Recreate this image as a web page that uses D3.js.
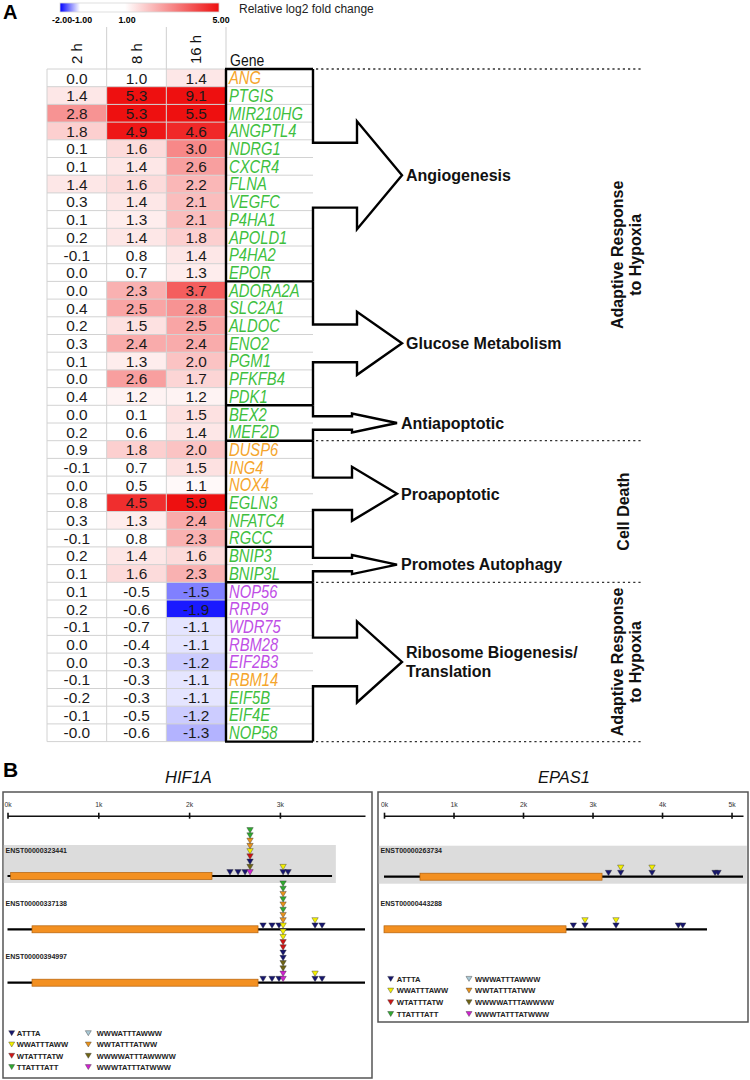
<!DOCTYPE html>
<html><head><meta charset="utf-8">
<script src="https://cdn.jsdelivr.net/npm/d3@7"></script>
<style>body{margin:0;background:#fff;} svg{display:block;font-family:"Liberation Sans",Arial,sans-serif;}</style>
</head><body><svg id="c" width="750" height="1080"></svg>
<script>
// ---------------- DATA: panel A ----------------
const genes = ["ANG","PTGIS","MIR210HG","ANGPTL4","NDRG1","CXCR4","FLNA","VEGFC","P4HA1","APOLD1","P4HA2","EPOR",
  "ADORA2A","SLC2A1","ALDOC","ENO2","PGM1","PFKFB4","PDK1","BEX2","MEF2D",
  "DUSP6","ING4","NOX4","EGLN3","NFATC4","RGCC","BNIP3","BNIP3L",
  "NOP56","RRP9","WDR75","RBM28","EIF2B3","RBM14","EIF5B","EIF4E","NOP58"];
const geneClass = ["o","g","g","g","g","g","g","g","g","g","g","g",
  "g","g","g","g","g","g","g","g","g",
  "o","o","o","g","g","g","g","g",
  "p","p","p","p","p","o","g","g","g"];
const times = ["2 h","8 h","16 h"];
const fc2h = [0.0,1.4,2.8,1.8,0.1,0.1,1.4,0.3,0.1,0.2,-0.1,0.0,
  0.0,0.4,0.2,0.3,0.1,0.0,0.4,0.0,0.2,
  0.9,-0.1,0.0,0.8,0.3,-0.1,0.2,0.1,
  0.1,0.2,-0.1,0.0,0.0,-0.1,-0.2,-0.1,-0.0];
const fc8h = [1.0,5.3,5.3,4.9,1.6,1.4,1.6,1.4,1.3,1.4,0.8,0.7,
  2.3,2.5,1.5,2.4,1.3,2.6,1.2,0.1,0.6,
  1.8,0.7,0.5,4.5,1.3,0.8,1.4,1.6,
  -0.5,-0.6,-0.7,-0.4,-0.3,-0.3,-0.3,-0.5,-0.6];
const fc16h = [1.4,9.1,5.5,4.6,3.0,2.6,2.2,2.1,2.1,1.8,1.4,1.3,
  3.7,2.8,2.5,2.4,2.0,1.7,1.2,1.5,1.4,
  2.0,1.5,1.1,5.9,2.4,2.3,1.6,2.3,
  -1.5,-1.9,-1.1,-1.1,-1.2,-1.1,-1.1,-1.2,-1.3];
const groupNames = [["Angiogenesis"],["Glucose Metabolism"],["Antiapoptotic"],["Proapoptotic"],["Promotes Autophagy"],["Ribosome Biogenesis/","Translation"]];
const groupSizes = [12,7,2,6,2,9];
const sectionNames = [["Adaptive Response","to Hypoxia"],["Cell Death"],["Adaptive Response","to Hypoxia"]];
const sectionSizes = [21,8,9];
const legendTicks = [-2,-1,1,5];
const legendTickLabels = ["-2.00","-1.00","1.00","5.00"];

// ---------------- DATA: panel B ----------------
const motifNames = ["ATTTA","WWATTTAWW","WTATTTATW","TTATTTATT","WWWATTTAWWW","WWTATTTATWW","WWWWATTTAWWWW","WWWTATTTATWWW"];
const hifTitle = "HIF1A";
const hifTicks = [0,1000,2000,3000];
const hifTranscripts = ["ENST00000323441","ENST00000337138","ENST00000394997"];
const hifLengths = [3574,3937,3937];
const hifCds = [[35,2252],[270,2759],[270,2759]];
const hifSites = [
  [[2450,["ATTTA"]],[2539,["ATTTA"]],[2616,["ATTTA"]],
   [2671,["WWWTATTTATWWW","WWWWATTTAWWWW","ATTTA","WTATTTATW","WWATTTAWW","WWTATTTATWW","WWTATTTATWW","TTATTTATT","TTATTTATT"]],
   [3035,["ATTTA","WWATTTAWW"]],[3090,["ATTTA"]]],
  [[2814,["ATTTA"]],[2913,["ATTTA"]],[2990,["ATTTA"]],
   [3035,["WWATTTAWW","WWTATTTATWW","WWTATTTATWW","TTATTTATT","WWTATTTATWW","TTATTTATT","WWTATTTATWW","TTATTTATT","TTATTTATT"]],
   [3387,["ATTTA","WWATTTAWW"]],[3464,["ATTTA"]]],
  [[2814,["ATTTA"]],[2913,["ATTTA"]],[2990,["ATTTA"]],
   [3035,["WWWTATTTATWWW","WWWTATTTATWWW","WWWWATTTAWWWW","WWWWATTTAWWWW","ATTTA","ATTTA","WTATTTATW","WTATTTATW","WWATTTAWW","WWATTTAWW"]],
   [3387,["ATTTA","WWATTTAWW"]],[3464,["ATTTA"]]]
];
const epasTitle = "EPAS1";
const epasTicks = [0,1000,2000,3000,4000,5000];
const epasTranscripts = ["ENST00000263734","ENST00000443288"];
const epasLengths = [5165,4647];
const epasCds = [[518,3137],[0,2619]];
const epasSites = [
  [[3230,["ATTTA"]],[3406,["ATTTA","WWATTTAWW"]],[3856,["ATTTA","WWATTTAWW"]],[4763,["ATTTA"]],[4806,["ATTTA"]]],
  [[2724,["ATTTA"]],[2892,["ATTTA","WWATTTAWW"]],[3338,["ATTTA","WWATTTAWW"]],[4235,["ATTTA"]],[4298,["ATTTA"]]]
];

// ---------------- STYLE ----------------
const geneColors = {o:"#f5a52c", g:"#3fbf3f", p:"#c04fe6"};
const motifColors = ["#16166e","#f4f000","#d01414","#2faa2f","#a9c9d6","#e8921c","#6f6414","#d022d0"];
const boldW = {W:0.944,A:0.722,T:0.611,E:0.667,N:0.722,S:0.667};
const boldWidth = (s,fs) => fs*[...s].reduce((a,c)=>a+(boldW[c]||0.556),0);
const svg = d3.select("#c");
const fmt = v => (Object.is(v,-0) ? "-" : "") + v.toFixed(1);

// ================= PANEL A =================
svg.append("text").attr("x",3).attr("y",19).attr("font-size",20).attr("font-weight","bold").text("A");

const heat = d3.scaleLinear().domain([-2,-1,1,5]).range(["#0000ff","#ffffff","#ffffff","#ee1010"]).clamp(true);
const lx = d3.scaleLinear().domain(legendTicks).range([62,82,127,221]);
const grad = svg.append("defs").append("linearGradient").attr("id","lg");
legendTicks.forEach(v => grad.append("stop")
  .attr("offset", ((lx(v)-lx(-2))/(lx(5)-lx(-2))*100)+"%").attr("stop-color", heat(v)));
svg.append("rect").attr("x",lx(-2)-2).attr("y",3).attr("width",lx(5)-lx(-2)).attr("height",9)
  .attr("fill","url(#lg)").attr("stroke","#d8d8d8").attr("stroke-width",0.8);
svg.selectAll(".lt").data(legendTicks).join("text").attr("class","lt")
  .attr("x",d=>lx(d)).attr("y",23).attr("text-anchor","middle").attr("font-size",8.8).attr("font-weight","bold")
  .text((d,i)=>legendTickLabels[i]);
svg.append("text").attr("x",239).attr("y",12.5).attr("font-size",12).attr("fill","#222").text("Relative log2 fold change");

const yRow = d3.scaleBand().domain(genes).range([69, 69+17.7*genes.length]);
const xCol = d3.scaleBand().domain(times).range([47,226]);
const tableBottom = yRow.range()[1];
const geneLeft = 226, geneRight = 313;
const cols = [fc2h, fc8h, fc16h];

svg.selectAll(".hl").data(times.slice(1).concat(["gene"])).join("line").attr("class","hl")
  .attr("x1",(d,i)=> i<2 ? xCol(d) : geneLeft).attr("x2",(d,i)=> i<2 ? xCol(d) : geneLeft)
  .attr("y1",27).attr("y2",69).attr("stroke","#cfcfcf").attr("stroke-width",1);
svg.selectAll(".th").data(times).join("text").attr("class","th")
  .attr("transform",d=>`translate(${xCol(d)+xCol.bandwidth()/2},64) rotate(-90)`)
  .attr("dy","0.35em").attr("font-size",15).attr("fill","#111").text(d=>d);
svg.append("text").attr("transform","translate(230,66) scale(1,1.12)").attr("font-size",14).attr("fill","#111").text("Gene");

const cells = [];
genes.forEach((g,r)=> times.forEach((t,c)=> cells.push({g,t,v:cols[c][r]})));
svg.selectAll(".cell").data(cells).join("rect").attr("class","cell")
  .attr("x",d=>xCol(d.t)).attr("y",d=>yRow(d.g)).attr("width",xCol.bandwidth()).attr("height",yRow.bandwidth())
  .attr("fill",d=>heat(d.v));
svg.selectAll(".cv").data(cells).join("text").attr("class","cv")
  .attr("x",d=>xCol(d.t)+xCol.bandwidth()/2).attr("y",d=>yRow(d.g)+yRow.bandwidth()/2)
  .attr("dy","0.37em").attr("text-anchor","middle").attr("font-size",15.4).attr("fill","#1a1a1a")
  .text(d=>fmt(d.v));
svg.selectAll(".rg").data(genes.concat(["end"])).join("line").attr("class","rg")
  .attr("x1",47).attr("x2",geneRight)
  .attr("y1",(d,i)=> i<genes.length ? yRow(d) : tableBottom).attr("y2",(d,i)=> i<genes.length ? yRow(d) : tableBottom)
  .attr("stroke","#d2d2d2").attr("stroke-width",1);
svg.selectAll(".cg").data(times).join("line").attr("class","cg")
  .attr("x1",d=>xCol(d)).attr("x2",d=>xCol(d)).attr("y1",69).attr("y2",tableBottom)
  .attr("stroke","#d2d2d2").attr("stroke-width",1);

svg.selectAll(".gn").data(genes).join("text").attr("class","gn")
  .attr("transform",d=>`translate(229,${yRow(d)+yRow.bandwidth()/2+6.4}) scale(1,1.2)`)
  .attr("font-size",14.8).attr("font-style","italic").attr("fill",(d,i)=>geneColors[geneClass[i]]).text(d=>d);

let start = 0;
const grpInfo = groupSizes.map((n,i)=>{
  const top = yRow(genes[start]);
  const bot = yRow(genes[start+n-1]) + yRow.bandwidth();
  start += n;
  return {i, n, top, bot, mid:(top+bot)/2};
});
const thick = 2.4;
svg.append("line").attr("x1",geneLeft).attr("x2",geneLeft).attr("y1",69).attr("y2",tableBottom)
  .attr("stroke","#000").attr("stroke-width",thick);
const seps = [grpInfo[0].top].concat(grpInfo.map(d=>d.bot));
svg.selectAll(".sep").data(seps).join("line").attr("class","sep")
  .attr("x1",geneLeft-1).attr("x2",geneRight).attr("y1",d=>d).attr("y2",d=>d)
  .attr("stroke","#000").attr("stroke-width",thick);
grpInfo.forEach(d=>{
  const sh = Math.max(6.7, d.n*2.7), hh = Math.max(9.5, d.n*4.5);
  const hs = d.n >= 7 ? 357 : 352;
  const tip = hs + 45;
  const p = `M${geneRight},${d.top}V${d.mid-sh}H${hs}V${d.mid-hh}L${tip},${d.mid}L${hs},${d.mid+hh}V${d.mid+sh}H${geneRight}V${d.bot}`;
  svg.append("path").attr("d",p).attr("fill","none").attr("stroke","#000").attr("stroke-width",thick).attr("stroke-linejoin","miter");
  const lines = groupNames[d.i];
  const t = svg.append("text").attr("x", tip+4).attr("font-size",16).attr("font-weight","bold").attr("fill","#111");
  if (lines.length === 1) {
    t.attr("y", d.mid+5.7).text(lines[0]);
  } else {
    t.attr("y", d.mid-4.3);
    lines.forEach((l,k)=> t.append("tspan").attr("x",tip+4).attr("dy", k===0?0:19).text(l));
  }
});

start = 0;
const secInfo = sectionSizes.map((n,i)=>{
  const top = yRow(genes[start]);
  const bot = yRow(genes[start+n-1]) + yRow.bandwidth();
  start += n;
  return {i, top, bot, mid:(top+bot)/2};
});
const dots = [secInfo[0].top].concat(secInfo.map(d=>d.bot));
svg.selectAll(".dl").data(dots).join("line").attr("class","dl")
  .attr("x1",316).attr("x2",643).attr("y1",d=>d).attr("y2",d=>d)
  .attr("stroke","#333").attr("stroke-width",1.3).attr("stroke-dasharray","2.2,3");
secInfo.forEach(d=>{
  const lines = sectionNames[d.i];
  const cx = 626;
  lines.forEach((l,k)=>{
    const x = lines.length===1 ? cx-3 : cx - 9 + k*18.5;
    svg.append("text").attr("transform",`translate(${x},${d.mid}) rotate(-90)`)
      .attr("text-anchor","middle").attr("dy","0.36em").attr("font-size",16).attr("font-weight","bold").attr("fill","#111").text(l);
  });
});

// ================= PANEL B =================
svg.append("text").attr("x",3).attr("y",777).attr("font-size",21).attr("font-weight","bold").text("B");

function drawGene(cfg){
  const g = svg.append("g");
  g.append("rect").attr("x",cfg.box[0]).attr("y",792).attr("width",cfg.box[1]-cfg.box[0]).attr("height",cfg.box[2]-792)
    .attr("fill","#fff").attr("stroke","#555").attr("stroke-width",1.5);
  g.append("text").attr("x",(cfg.box[0]+cfg.box[1])/2+1).attr("y",783).attr("text-anchor","middle")
    .attr("font-size",16.5).attr("font-style","italic").attr("fill","#111").text(cfg.title);
  const x = cfg.x;
  const ax = g.append("g").attr("transform","translate(0,815.7)")
    .call(d3.axisTop(x).tickValues(cfg.ticks).tickFormat(d=>(d/1000)+"k").tickSize(3).tickSizeOuter(0).tickPadding(6));
  ax.select(".domain").attr("stroke","#111").attr("stroke-width",1.6);
  ax.selectAll(".tick line").attr("y1",3).attr("y2",-3).attr("stroke","#111").attr("stroke-width",1.6);
  ax.selectAll(".tick text").attr("font-size",6.8).attr("fill","#333").attr("font-family","Liberation Sans, Arial");
  cfg.transcripts.forEach((name,ti)=>{
    const ly = cfg.lineY[ti];
    if (ti === 0) {
      g.append("rect").attr("x",cfg.box[0]+0.8).attr("y",ly-31).attr("width",Math.min(x(cfg.lengths[ti])+3, cfg.box[1]-1.5)-cfg.box[0])
        .attr("height",38).attr("fill","#dcdcdc");
    }
    g.append("text").attr("x",cfg.box[0]+2.5).attr("y",ly-23.5).attr("font-size",7).attr("font-weight","bold")
      .attr("textLength",boldWidth(name,7)).attr("lengthAdjust","spacingAndGlyphs")
      .attr("fill","#222").text(name);
    g.append("line").attr("x1",x(0)).attr("x2",x(cfg.lengths[ti])).attr("y1",ly).attr("y2",ly)
      .attr("stroke","#000").attr("stroke-width",2.2);
    g.append("rect").attr("x",x(cfg.cds[ti][0])).attr("y",ly-3.5).attr("width",x(cfg.cds[ti][1])-x(cfg.cds[ti][0]))
      .attr("height",7).attr("fill","#f39021").attr("stroke","#b4620a").attr("stroke-width",0.7);
    cfg.sites[ti].forEach(([pos,stack])=>{
      stack.forEach((m,k)=>{
        const tipY = ly - 1 - k*5.25, cx = x(pos);
        g.append("path").attr("d",`M${cx-3.2},${tipY-5.4}H${cx+3.2}L${cx},${tipY}Z`)
          .attr("fill",motifColors[motifNames.indexOf(m)]).attr("stroke","#333").attr("stroke-width",0.4);
      });
    });
  });
  motifNames.forEach((m,i)=>{
    const col = Math.floor(i/4), row = i%4;
    const tx = cfg.leg.tri[col], y = cfg.leg.y0 + row*cfg.leg.step;
    g.append("path").attr("d",`M${tx-3},${y-5.3}H${tx+3}L${tx},${y-0.3}Z`)
      .attr("fill",motifColors[i]).attr("stroke","#333").attr("stroke-width",0.4);
    g.append("text").attr("x",cfg.leg.txt[col]).attr("y",y).attr("font-size",7.3).attr("font-weight","bold")
      .attr("textLength",boldWidth(m,7.3)).attr("lengthAdjust","spacingAndGlyphs")
      .attr("fill","#222").text(m);
  });
}

drawGene({
  title: hifTitle, box:[3,372,1078], ticks: hifTicks,
  x: d3.scaleLinear().domain([0,3937]).range([7.5,365]),
  transcripts: hifTranscripts, lengths: hifLengths, cds: hifCds, sites: hifSites,
  lineY: [876,929.3,982.7],
  leg: {tri:[11.7,88.3], txt:[16.7,96.7], y0:1036, step:11.3}
});
drawGene({
  title: epasTitle, box:[378,748,1022], ticks: epasTicks,
  x: d3.scaleLinear().domain([0,5165]).range([384,743]),
  transcripts: epasTranscripts, lengths: epasLengths, cds: epasCds, sites: epasSites,
  lineY: [876.7,929.3],
  leg: {tri:[390.7,469], txt:[396.7,475], y0:981.7, step:11.7}
});
</script></body></html>
